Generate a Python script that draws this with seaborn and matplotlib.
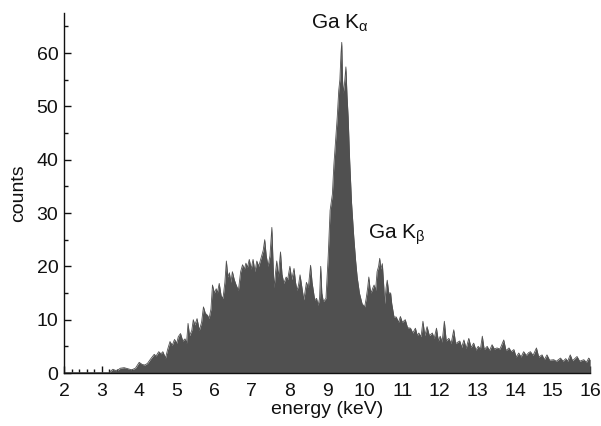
import matplotlib
matplotlib.use("Agg")
import matplotlib.pyplot as plt
from matplotlib.ticker import MultipleLocator
import seaborn as sns
import pandas as pd

# vertices of the EDX spectrum (energy in keV, counts)
energy = [
    2.00, 3.20, 3.30, 3.40, 3.50, 3.60, 3.70, 3.80, 3.90, 4.00,
    4.08, 4.15, 4.22, 4.30, 4.40, 4.45, 4.52, 4.58, 4.63, 4.70,
    4.76, 4.82, 4.88, 4.94, 5.00, 5.04, 5.10, 5.16, 5.22, 5.26,
    5.30, 5.34, 5.40, 5.44, 5.48, 5.54, 5.60, 5.66, 5.71, 5.76,
    5.82, 5.86, 5.91, 5.95, 6.00, 6.05, 6.08, 6.13, 6.18, 6.23,
    6.28, 6.32, 6.36, 6.40, 6.44, 6.48, 6.53, 6.58, 6.64, 6.70,
    6.75, 6.80, 6.84, 6.88, 6.93, 6.98, 7.03, 7.08, 7.13, 7.18,
    7.24, 7.30, 7.34, 7.38, 7.43, 7.48, 7.53, 7.57, 7.59, 7.63,
    7.66, 7.70, 7.76, 7.80, 7.85, 7.91, 7.95, 8.01, 8.06, 8.12,
    8.16, 8.20, 8.24, 8.28, 8.33, 8.38, 8.45, 8.50, 8.56, 8.60,
    8.67, 8.72, 8.76, 8.80, 8.83, 8.86, 8.90, 8.97, 9.03, 9.08,
    9.14, 9.18, 9.23, 9.27, 9.31, 9.34, 9.37, 9.39, 9.41, 9.43,
    9.46, 9.50, 9.53, 9.56, 9.60, 9.65, 9.71, 9.76, 9.80, 9.86,
    9.93, 10.00, 10.04, 10.08, 10.11, 10.14, 10.17, 10.22, 10.25, 10.29,
    10.33, 10.37, 10.40, 10.43, 10.47, 10.51, 10.53, 10.57, 10.60, 10.64,
    10.69, 10.72, 10.78, 10.84, 10.90, 10.95, 11.00, 11.08, 11.14, 11.22,
    11.28, 11.35, 11.40, 11.44, 11.50, 11.55, 11.60, 11.66, 11.72, 11.80,
    11.85, 11.91, 11.96, 12.01, 12.06, 12.12, 12.17, 12.24, 12.30, 12.37,
    12.42, 12.48, 12.53, 12.58, 12.64, 12.70, 12.77, 12.83, 12.90, 12.96,
    13.02, 13.08, 13.13, 13.18, 13.26, 13.32, 13.39, 13.45, 13.52, 13.60,
    13.70, 13.76, 13.84, 13.90, 13.97, 14.03, 14.10, 14.16, 14.23, 14.30,
    14.36, 14.41, 14.48, 14.57, 14.63, 14.72, 14.78, 14.85, 14.92, 15.03,
    15.10, 15.21, 15.28, 15.35, 15.40, 15.47, 15.53, 15.65, 15.72, 15.83,
    15.90, 15.96, 16.00,
]
counts = [
    0.1, 0.1, 0.7, 0.4, 0.9, 1.0, 0.8, 0.6, 0.9, 2.0,
    1.6, 1.5, 1.8, 2.6, 3.5, 3.2, 4.0, 3.6, 4.0, 2.8,
    4.5, 5.9, 5.2, 6.3, 5.6, 6.8, 7.4, 6.0, 6.4, 5.6,
    9.3, 7.0, 8.0, 10.0, 9.0, 10.2, 8.0, 9.5, 12.4, 11.2,
    10.8, 10.2, 12.0, 16.5, 15.0, 15.8, 15.0, 16.8, 14.5, 14.0,
    17.0, 21.0, 18.0, 18.8, 17.0, 19.0, 17.5, 16.5, 15.5, 19.0,
    20.3, 19.5, 20.6, 19.8, 21.3, 19.5, 21.3, 19.0, 21.0, 20.0,
    21.5, 23.0, 25.0, 22.0, 20.0, 22.0, 27.3, 19.0, 16.0, 19.0,
    21.0, 18.0, 22.7, 18.5, 16.8, 18.0, 17.5, 20.0, 17.5, 19.6,
    17.0, 15.5, 16.5, 18.4, 16.0, 13.7, 17.0, 16.0, 20.2, 17.0,
    13.7, 14.0, 12.7, 14.0, 20.0, 15.0, 13.4, 14.0, 22.0, 30.5,
    33.5, 39.0, 44.0, 48.0, 53.0, 55.0, 60.0, 62.0, 55.0, 52.5,
    54.0, 57.4, 52.0, 48.0, 40.0, 32.0, 25.5, 21.0, 18.0, 15.0,
    13.0, 12.4, 14.0, 16.0, 18.0, 16.0, 15.0, 16.0, 16.5, 15.5,
    19.0, 20.0, 21.5, 19.5, 20.5, 16.0, 13.0, 16.0, 17.4, 15.0,
    15.0, 13.0, 10.5, 10.5, 9.5, 10.6, 9.5, 10.0, 8.5, 8.4,
    7.5, 8.4, 7.0, 7.5, 6.8, 9.7, 7.0, 8.7, 7.0, 7.5,
    6.5, 8.4, 6.0, 6.9, 5.8, 9.7, 6.0, 6.5, 5.5, 8.1,
    5.5, 5.8, 6.0, 4.8, 6.2, 4.6, 6.5, 4.8, 5.6, 4.3,
    5.0, 4.5, 6.9, 4.4, 5.0, 4.2, 5.3, 4.5, 4.7, 4.5,
    6.2, 4.2, 4.7, 4.0, 4.4, 3.0, 3.75, 3.0, 4.0, 3.3,
    3.8, 4.0, 3.3, 4.7, 3.0, 3.4, 2.5, 3.4, 2.4, 2.5,
    2.2, 2.8, 2.2, 2.7, 2.2, 3.4, 2.3, 3.1, 2.2, 2.5,
    2.0, 2.8, 2.5,
]

peak_labels = [r"Ga K$_{\alpha}$", r"Ga K$_{\beta}$"]
peak_label_pos = [(9.35, 65.6), (10.85, 26.0)]

spectrum = pd.DataFrame({"energy": energy, "counts": counts})

sns.set_style("ticks")
plt.rcParams["font.family"] = ["Liberation Sans", "DejaVu Sans"]
plt.rcParams["mathtext.fontset"] = "custom"
plt.rcParams["mathtext.rm"] = "Liberation Sans"
plt.rcParams["mathtext.it"] = "Liberation Sans"

fig = plt.figure(figsize=(6.01, 4.26), dpi=100)
ax = fig.add_axes([0.1065, 0.1244, 0.8755, 0.845])

fill_color = "#505050"
ax.fill_between(spectrum["energy"], spectrum["counts"], 0,
                color=fill_color, linewidth=0, zorder=1)
sns.lineplot(data=spectrum, x="energy", y="counts", ax=ax,
             color=fill_color, linewidth=0.6, zorder=1)

for text, (x, y) in zip(peak_labels, peak_label_pos):
    ax.text(x, y, text, ha="center", va="center", fontsize=15, color="#111111")

ax.set_xlim(2, 16)
ax.set_ylim(0, 67.5)
ax.xaxis.set_major_locator(MultipleLocator(1))
ax.xaxis.set_minor_locator(MultipleLocator(0.2))
ax.yaxis.set_major_locator(MultipleLocator(10))
ax.yaxis.set_minor_locator(MultipleLocator(5))
ax.tick_params(which="both", direction="in", width=1.0, color="#111111",
               labelsize=14, labelcolor="#111111")
ax.tick_params(which="major", length=5)
ax.tick_params(which="minor", length=2.8)
ax.tick_params(axis="x", which="major", pad=7)
ax.tick_params(axis="y", which="major", pad=4)

ax.set_xlabel("energy (keV)", fontsize=14, color="#111111", labelpad=1)
ax.set_ylabel("counts", fontsize=14, color="#111111", labelpad=7)

sns.despine(ax=ax)
for side in ["left", "bottom"]:
    ax.spines[side].set_linewidth(1.0)
    ax.spines[side].set_color("#111111")

fig.savefig("out.png", dpi=100)
